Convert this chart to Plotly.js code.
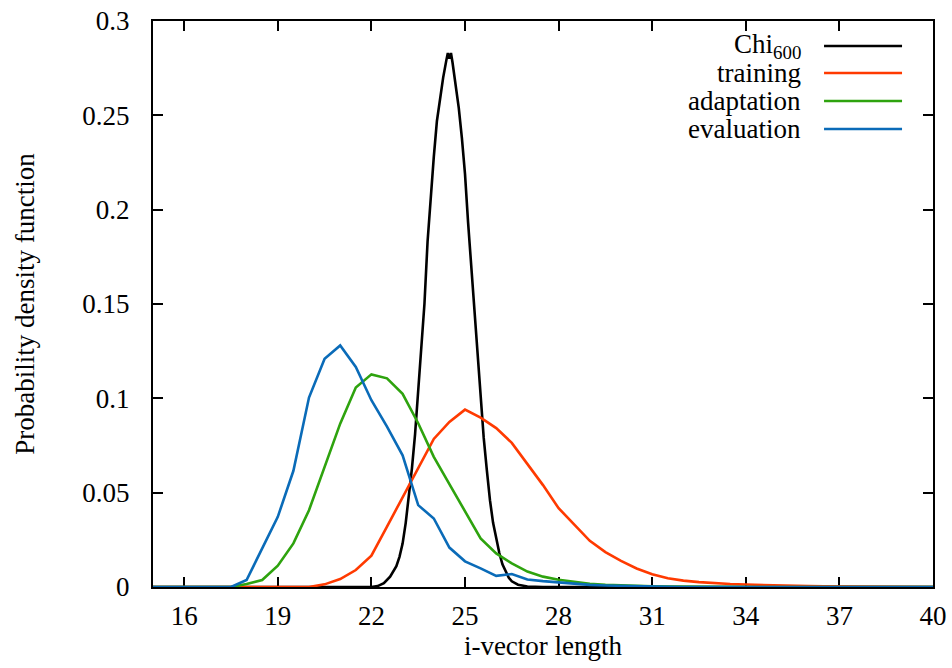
<!DOCTYPE html>
<html>
<head>
<meta charset="utf-8">
<script src="https://cdn.plot.ly/plotly-3.0.1.min.js"></script>
<style>
html,body{margin:0;padding:0;background:#fff;}
#chart{width:952px;height:668px;}
#chart text{font-family:"Liberation Serif" !important;}
</style>
</head>
<body>
<div id="chart"></div>
<script>
// ---- data ----
var seriesNames = ["Chi<sub>600</sub>", "training", "adaptation", "evaluation"];

var gridX = [15,15.5,16,16.5,17,17.5,18,18.5,19,19.5,20,20.5,21,21.5,22,22.5,23,23.5,24,24.5,25,25.5,26,26.5,27,27.5,28,28.5,29,29.5,30,30.5,31,31.5,32,32.5,33,33.5,34,34.5,35,35.5,36,36.5,37,37.5,38,38.5,39,39.5,40];

var trainingY = [0,0,0,0,0,0,0,0,0,0,0,0.0014,0.0042,0.009,0.0166,0.032,0.0475,0.0637,0.0785,0.0875,0.094,0.0898,0.0842,0.0764,0.0655,0.054,0.0418,0.033,0.0245,0.0185,0.0138,0.0098,0.0068,0.0046,0.0034,0.0026,0.002,0.0016,0.0013,0.001,0.0008,0.0007,0.0005,0.0004,0.0003,0.0002,0.0002,0.0001,0.0001,0,0];

var adaptationY = [0,0,0,0,0,0,0.0016,0.0037,0.0113,0.0231,0.0407,0.064,0.0866,0.1057,0.1127,0.1106,0.1024,0.0868,0.069,0.0545,0.040,0.0258,0.0178,0.0125,0.0082,0.0055,0.0038,0.0026,0.0017,0.0012,0.0008,0.0006,0.0004,0.0003,0.0002,0.0001,0.0001,0,0,0,0,0,0,0,0,0,0,0,0,0,0];

var evaluationY = [0,0,0,0,0,0,0.0037,0.0205,0.0372,0.0616,0.1004,0.121,0.128,0.1166,0.099,0.085,0.0698,0.0434,0.0363,0.0209,0.0136,0.0099,0.0059,0.0069,0.004,0.0031,0.0024,0.0016,0.0011,0.0008,0.0006,0.0004,0.0002,0.0001,0,0,0,0,0,0,0,0,0,0,0,0,0,0,0,0,0];

var chiX = [15,22,22.2,22.4,22.6,22.8,22.9,23.0,23.1,23.2,23.3,23.4,23.5,23.6,23.7,23.8,23.9,24.0,24.1,24.2,24.3,24.4,24.45,24.5,24.55,24.6,24.7,24.8,24.9,25.0,25.1,25.2,25.3,25.4,25.5,25.6,25.7,25.8,25.9,26.0,26.1,26.2,26.3,26.4,26.5,26.7,27.0,27.5,40];
var chiY = [0,0,0.0005,0.002,0.0055,0.011,0.016,0.023,0.034,0.047,0.063,0.081,0.103,0.127,0.150,0.183,0.207,0.228,0.247,0.260,0.270,0.279,0.283,0.280,0.283,0.278,0.267,0.254,0.238,0.219,0.193,0.170,0.147,0.123,0.100,0.079,0.062,0.046,0.034,0.025,0.018,0.012,0.008,0.005,0.003,0.0012,0.0003,0,0];

var xTicks = [16,19,22,25,28,31,34,37,40];
var yTicks = [0,0.05,0.1,0.15,0.2,0.25,0.3];
var yTickText = ["0","0.05","0.1","0.15","0.2","0.25","0.3"];

// ---- styles ----
var colors = ["#000000", "#ff3a00", "#2ea30e", "#0a6bb8"];
var serifFamily = "Liberation Serif";
var FS = 27;

var xs = [chiX, gridX, gridX, gridX];
var ys = [chiY, trainingY, adaptationY, evaluationY];

var traces = [];
for (var i = 0; i < 4; i++) {
  traces.push({
    x: xs[i], y: ys[i], type: "scatter", mode: "lines",
    name: seriesNames[i], showlegend: false, cliponaxis: false,
    line: {color: colors[i], width: 2.6}
  });
}

// custom legend (text right-aligned, sample line on the right)
var legY = [0.9558, 0.9081, 0.8587, 0.8092];
var annotations = [], shapes = [];
for (var j = 0; j < 4; j++) {
  annotations.push({
    xref: "paper", yref: "paper", x: 0.8333, y: legY[j],
    xanchor: "right", yanchor: "middle", showarrow: false,
    text: seriesNames[j], font: {family: serifFamily, size: FS, color: "#000"}
  });
  shapes.push({
    type: "line", xref: "paper", yref: "paper",
    x0: 0.8603, x1: 0.9603, y0: legY[j], y1: legY[j],
    line: {color: colors[j], width: 2.6}
  });
}

function axisBase() {
  return {
    showline: true, linewidth: 2, linecolor: "#000", mirror: "ticks",
    ticks: "inside", ticklen: 10, tickwidth: 1.5, tickcolor: "#000",
    showgrid: false, zeroline: false,
    tickfont: {family: serifFamily, size: FS, color: "#000"},
    layer: "below traces"
  };
}

var xaxis = axisBase();
xaxis.range = [15, 40];
xaxis.tickmode = "array";
xaxis.tickvals = xTicks;
xaxis.ticklabelstandoff = 4;
xaxis.title = {text: "i-vector length", font: {family: serifFamily, size: FS, color: "#000"}, standoff: 2};

var yaxis = axisBase();
yaxis.range = [0, 0.3];
yaxis.tickmode = "array";
yaxis.tickvals = yTicks;
yaxis.ticktext = yTickText;
yaxis.ticklabelstandoff = 16;
yaxis.title = {text: "Probability density function", font: {family: serifFamily, size: FS, color: "#000"}, standoff: 40};

var layout = {
  width: 952, height: 668,
  margin: {l: 153, r: 19, t: 21, b: 81},
  paper_bgcolor: "#fff", plot_bgcolor: "#fff",
  showlegend: false,
  font: {family: serifFamily, size: FS, color: "#000"},
  xaxis: xaxis,
  yaxis: yaxis,
  annotations: annotations,
  shapes: shapes
};

Plotly.newPlot("chart", traces, layout, {displayModeBar: false});
</script>
</body>
</html>
